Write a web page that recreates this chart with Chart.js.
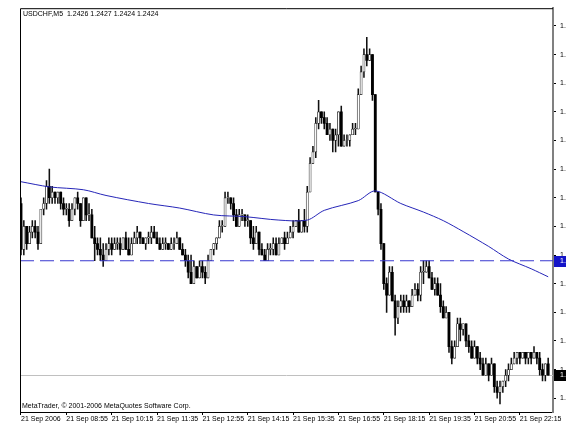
<!DOCTYPE html>
<html>
<head>
<meta charset="utf-8">
<script src="https://cdn.jsdelivr.net/npm/chart.js@4.4.0/dist/chart.umd.min.js"></script>
<style>
  html, body { margin: 0; padding: 0; background: #fff; }
</style>
</head>
<body>
<canvas id="myChart" width="566" height="425"></canvas>
<script>
// USDCHF M5, 21 Sep 2006, one entry per 5 minute bar from 07:35
var opens = [
  1.2454,1.2446,1.2450,1.2447,1.2449,1.2450,1.2449,1.2447,1.2453,1.2454,1.2457,1.2455,1.2456,1.2455,1.2456,1.2454,
  1.2453,1.2453,1.2451,1.2453,1.2455,1.2454,1.2451,1.2455,1.2452,1.2452,1.2448,1.2447,1.2446,1.2445,1.2444,1.2446,
  1.2447,1.2446,1.2447,1.2447,1.2446,1.2448,1.2446,1.2445,1.2447,1.2448,1.2449,1.2448,1.2447,1.2448,1.2448,1.2449,
  1.2448,1.2447,1.2446,1.2447,1.2447,1.2446,1.2447,1.2447,1.2448,1.2446,1.2445,1.2444,1.2442,1.2440,1.2443,1.2441,
  1.2443,1.2442,1.2441,1.2444,1.2446,1.2447,1.2448,1.2450,1.2450,1.2455,1.2455,1.2454,1.2452,1.2450,1.2452,1.2452,
  1.2451,1.2451,1.2448,1.2447,1.2449,1.2446,1.2445,1.2444,1.2446,1.2446,1.2447,1.2445,1.2447,1.2448,1.2447,1.2448,
  1.2449,1.2450,1.2451,1.2449,1.2451,1.2450,1.2456,1.2461,1.2463,1.2468,1.2470,1.2469,1.2468,1.2466,1.2467,1.2465,
  1.2466,1.2470,1.2464,1.2465,1.2465,1.2466,1.2467,1.2467,1.2473,1.2477,1.2480,1.2479,1.2480,1.2473,1.2456,1.2453,
  1.2447,1.2440,1.2438,1.2442,1.2437,1.2434,1.2436,1.2437,1.2436,1.2437,1.2436,1.2438,1.2439,1.2438,1.2442,1.2442,
  1.2443,1.2441,1.2439,1.2440,1.2438,1.2436,1.2434,1.2435,1.2429,1.2427,1.2429,1.2433,1.2432,1.2433,1.2430,1.2429,
  1.2427,1.2429,1.2427,1.2426,1.2424,1.2426,1.2424,1.2426,1.2422,1.2421,1.2422,1.2423,1.2424,1.2425,1.2426,1.2427,
  1.2428,1.2427,1.2428,1.2427,1.2428,1.2427,1.2428,1.2427,1.2425,1.2424,1.2426
];
var highs = [
  1.2455,1.2451,1.2450,1.2450,1.2451,1.2451,1.2450,1.2453,1.2455,1.2458,1.2460,1.2457,1.2456,1.2456,1.2456,1.2455,
  1.2454,1.2454,1.2454,1.2455,1.2456,1.2454,1.2455,1.2455,1.2454,1.2453,1.2450,1.2448,1.2448,1.2447,1.2447,1.2448,
  1.2448,1.2448,1.2448,1.2448,1.2448,1.2449,1.2448,1.2448,1.2449,1.2450,1.2449,1.2448,1.2448,1.2449,1.2450,1.2450,
  1.2449,1.2448,1.2448,1.2448,1.2447,1.2448,1.2448,1.2449,1.2448,1.2447,1.2446,1.2445,1.2445,1.2444,1.2443,1.2444,
  1.2444,1.2443,1.2445,1.2446,1.2447,1.2448,1.2451,1.2451,1.2456,1.2456,1.2455,1.2455,1.2453,1.2453,1.2453,1.2452,
  1.2452,1.2451,1.2450,1.2450,1.2449,1.2447,1.2446,1.2447,1.2447,1.2448,1.2448,1.2448,1.2448,1.2449,1.2449,1.2450,
  1.2451,1.2451,1.2453,1.2451,1.2453,1.2457,1.2462,1.2464,1.2469,1.2472,1.2470,1.2470,1.2469,1.2468,1.2467,1.2467,
  1.2470,1.2471,1.2466,1.2466,1.2466,1.2468,1.2468,1.2474,1.2478,1.2481,1.2483,1.2481,1.2480,1.2473,1.2456,1.2454,
  1.2447,1.2441,1.2443,1.2443,1.2438,1.2437,1.2438,1.2438,1.2438,1.2437,1.2439,1.2440,1.2440,1.2443,1.2444,1.2444,
  1.2444,1.2442,1.2441,1.2441,1.2440,1.2437,1.2436,1.2435,1.2430,1.2430,1.2434,1.2434,1.2433,1.2433,1.2431,1.2430,
  1.2430,1.2429,1.2428,1.2427,1.2427,1.2426,1.2427,1.2426,1.2423,1.2423,1.2423,1.2425,1.2426,1.2427,1.2428,1.2428,
  1.2428,1.2428,1.2428,1.2428,1.2428,1.2429,1.2428,1.2428,1.2426,1.2426,1.2427
];
var lows = [
  1.2445,1.2445,1.2446,1.2447,1.2448,1.2448,1.2446,1.2447,1.2452,1.2453,1.2454,1.2454,1.2454,1.2454,1.2453,1.2452,
  1.2452,1.2450,1.2451,1.2452,1.2453,1.2450,1.2451,1.2451,1.2451,1.2448,1.2444,1.2445,1.2444,1.2443,1.2444,1.2445,
  1.2445,1.2446,1.2446,1.2445,1.2446,1.2446,1.2445,1.2445,1.2447,1.2447,1.2447,1.2447,1.2446,1.2447,1.2447,1.2448,
  1.2447,1.2446,1.2446,1.2446,1.2446,1.2446,1.2446,1.2447,1.2446,1.2445,1.2443,1.2441,1.2440,1.2440,1.2441,1.2441,
  1.2441,1.2440,1.2441,1.2444,1.2445,1.2446,1.2448,1.2449,1.2450,1.2454,1.2453,1.2451,1.2450,1.2450,1.2451,1.2450,
  1.2450,1.2447,1.2446,1.2447,1.2445,1.2445,1.2444,1.2444,1.2445,1.2445,1.2445,1.2445,1.2447,1.2446,1.2447,1.2448,
  1.2448,1.2450,1.2449,1.2449,1.2449,1.2449,1.2456,1.2461,1.2462,1.2467,1.2468,1.2467,1.2466,1.2465,1.2463,1.2463,
  1.2464,1.2464,1.2464,1.2464,1.2464,1.2466,1.2466,1.2467,1.2473,1.2476,1.2478,1.2479,1.2472,1.2456,1.2452,1.2446,
  1.2439,1.2435,1.2438,1.2437,1.2431,1.2433,1.2435,1.2435,1.2435,1.2435,1.2436,1.2438,1.2437,1.2437,1.2440,1.2442,
  1.2441,1.2439,1.2438,1.2438,1.2435,1.2434,1.2434,1.2428,1.2426,1.2427,1.2429,1.2430,1.2431,1.2429,1.2428,1.2427,
  1.2427,1.2426,1.2425,1.2424,1.2424,1.2423,1.2424,1.2421,1.2420,1.2419,1.2421,1.2422,1.2423,1.2425,1.2426,1.2426,
  1.2426,1.2427,1.2426,1.2426,1.2426,1.2427,1.2426,1.2424,1.2423,1.2423,1.2424
];
var closes = [
  1.2446,1.2450,1.2447,1.2449,1.2450,1.2449,1.2447,1.2453,1.2454,1.2457,1.2455,1.2456,1.2455,1.2456,1.2454,1.2453,
  1.2453,1.2451,1.2453,1.2455,1.2454,1.2451,1.2455,1.2452,1.2452,1.2448,1.2447,1.2446,1.2445,1.2444,1.2446,1.2447,
  1.2446,1.2447,1.2447,1.2446,1.2448,1.2446,1.2445,1.2447,1.2448,1.2449,1.2448,1.2447,1.2448,1.2448,1.2449,1.2448,
  1.2447,1.2446,1.2447,1.2447,1.2446,1.2447,1.2447,1.2448,1.2446,1.2445,1.2444,1.2442,1.2440,1.2443,1.2441,1.2443,
  1.2442,1.2441,1.2444,1.2446,1.2447,1.2448,1.2450,1.2450,1.2455,1.2455,1.2454,1.2452,1.2450,1.2452,1.2452,1.2451,
  1.2451,1.2448,1.2447,1.2449,1.2446,1.2445,1.2444,1.2446,1.2446,1.2447,1.2445,1.2447,1.2448,1.2447,1.2448,1.2449,
  1.2450,1.2451,1.2449,1.2451,1.2450,1.2456,1.2461,1.2463,1.2468,1.2470,1.2469,1.2468,1.2466,1.2467,1.2465,1.2466,
  1.2470,1.2464,1.2465,1.2465,1.2466,1.2467,1.2467,1.2473,1.2477,1.2480,1.2479,1.2480,1.2473,1.2456,1.2453,1.2447,
  1.2440,1.2438,1.2442,1.2437,1.2434,1.2436,1.2437,1.2436,1.2437,1.2436,1.2438,1.2439,1.2438,1.2442,1.2442,1.2443,
  1.2441,1.2439,1.2440,1.2438,1.2436,1.2434,1.2435,1.2429,1.2427,1.2429,1.2433,1.2432,1.2433,1.2430,1.2429,1.2427,
  1.2429,1.2427,1.2426,1.2424,1.2426,1.2424,1.2426,1.2422,1.2421,1.2422,1.2423,1.2424,1.2425,1.2426,1.2427,1.2428,
  1.2427,1.2428,1.2427,1.2428,1.2427,1.2428,1.2427,1.2425,1.2424,1.2426,1.2424
];

// moving average (blue line), read at a few bars
var maBar = [0, 10, 22, 30, 45, 56, 68, 79, 91, 101, 107, 119, 125, 134, 142, 149, 156, 165, 172, 180, 186];
var maVal = [1.24578, 1.24569, 1.24564, 1.24554, 1.24540, 1.24532, 1.24520, 1.24517, 1.24511, 1.24511, 1.24528,
             1.24545, 1.24562, 1.24540, 1.24525, 1.24510, 1.24491, 1.24465, 1.24443, 1.24426, 1.24412];

// time axis labels, every 16 bars
var tickBars = [0, 16, 32, 48, 64, 80, 96, 112, 128, 144, 160, 176];
var tickLabels = ['21 Sep 2006', '21 Sep 08:55', '21 Sep 10:15', '21 Sep 11:35', '21 Sep 12:55', '21 Sep 14:15',
                  '21 Sep 15:35', '21 Sep 16:55', '21 Sep 18:15', '21 Sep 19:35', '21 Sep 20:55', '21 Sep 22:15'];
var priceTicks = [1.2420, 1.2425, 1.2430, 1.2435, 1.2440, 1.2445, 1.2450, 1.2455, 1.2460, 1.2465,
                  1.2470, 1.2475, 1.2480, 1.2485];

var hLevel = 1.2444;   // dashed horizontal line
var bidLevel = 1.2424; // last bid
var titleText = 'USDCHF,M5  1.2426 1.2427 1.2424 1.2424';
var copyText = 'MetaTrader, \u00a9 2001-2006 MetaQuotes Software Corp.';

var FONT = '"Liberation Sans", Arial, sans-serif';

function isUp(i) { return closes[i] >= opens[i]; }

var mtDecor = {
    id: 'mtDecor',
    beforeDatasetsDraw: function(chart) {
        var ctx = chart.ctx, a = chart.chartArea, y = chart.scales.y;
        ctx.save();
        var by = Math.round(y.getPixelForValue(bidLevel)) + 0.5;
        ctx.strokeStyle = '#c0c0c0';
        ctx.lineWidth = 1;
        ctx.beginPath(); ctx.moveTo(a.left, by); ctx.lineTo(a.right, by); ctx.stroke();
        ctx.restore();
    },
    afterDatasetsDraw: function(chart) {
        var ctx = chart.ctx, a = chart.chartArea, y = chart.scales.y;
        ctx.save();
        var hy = y.getPixelForValue(hLevel);
        ctx.strokeStyle = '#3838d0';
        ctx.lineWidth = 1.2;
        ctx.setLineDash([14, 6]);
        ctx.beginPath(); ctx.moveTo(a.left, hy); ctx.lineTo(a.right, hy); ctx.stroke();
        ctx.restore();
    },
    afterDraw: function(chart) {
        var ctx = chart.ctx, a = chart.chartArea, y = chart.scales.y;
        ctx.save();
        // left and top frame
        ctx.strokeStyle = '#000';
        ctx.lineWidth = 1;
        ctx.beginPath();
        ctx.moveTo(a.left + 0.5, a.bottom); ctx.lineTo(a.left + 0.5, a.top + 0.5); ctx.lineTo(a.right, a.top + 0.5);
        ctx.stroke();

        ctx.font = '7px ' + FONT;
        ctx.textBaseline = 'middle';
        ctx.fillStyle = '#000';
        ctx.fillText(titleText, a.left + 3, a.top + 6);
        ctx.fillText(copyText, a.left + 2, a.bottom - 6);

        // price boxes on the right axis
        var boxes = [[hLevel, '#1414c8'], [bidLevel, '#000']];
        boxes.forEach(function(b) {
            var py = y.getPixelForValue(b[0]);
            ctx.fillStyle = b[1];
            ctx.fillRect(a.right + 1, Math.round(py) - 5, 13, 11);
            ctx.fillStyle = '#fff';
            ctx.fillText(b[0].toFixed(4), a.right + 7, Math.round(py) + 0.5);
        });
        ctx.restore();
    }
};

const ctx = document.getElementById('myChart').getContext('2d');
const myChart = new Chart(ctx, {
    type: 'bar',
    data: {
        datasets: [{
            type: 'line',
            data: maBar.map(function(b, i) { return {x: b, y: maVal[i]}; }),
            borderColor: '#2626b8',
            borderWidth: 1,
            pointRadius: 0,
            tension: 0.3,
            order: 0
        }, {
            // candle bodies
            data: opens.map(function(o, i) { return {x: i, y: [o, closes[i]]}; }),
            backgroundColor: function(c) { return isUp(c.dataIndex) ? '#ffffff' : '#000000'; },
            borderColor: '#222222',
            borderWidth: function(c) { return isUp(c.dataIndex) ? 0.7 : 0; },
            borderSkipped: false,
            barThickness: 2.2,
            minBarLength: 1,
            grouped: false,
            order: 1
        }, {
            // wicks
            data: highs.map(function(h, i) { return {x: i, y: [lows[i], h]}; }),
            backgroundColor: '#111111',
            borderWidth: 0,
            barThickness: 0.9,
            grouped: false,
            order: 2
        }]
    },
    options: {
        responsive: false,
        animation: false,
        events: [],
        layout: { padding: { left: 20, top: 2, right: 0, bottom: 0 } },
        plugins: {
            legend: { display: false },
            tooltip: { enabled: false }
        },
        scales: {
            x: {
                type: 'linear',
                min: -0.35,
                max: 187.7,
                offset: false,
                afterBuildTicks: function(axis) {
                    axis.ticks = tickBars.map(function(v) { return {value: v}; });
                },
                afterFit: function(axis) { axis.height = 13; },
                grid: { display: true, offset: false, drawOnChartArea: false, drawTicks: true, tickLength: 3, tickColor: '#000', color: '#000' },
                border: { display: true, color: '#000', width: 1 },
                ticks: {
                    autoSkip: false,
                    maxRotation: 0,
                    align: 'start',
                    padding: 0,
                    color: '#000',
                    font: { family: FONT, size: 7 },
                    callback: function(v) {
                        var i = tickBars.indexOf(v);
                        return i < 0 ? '' : tickLabels[i];
                    }
                }
            },
            y: {
                position: 'right',
                min: 1.241759,
                max: 1.248810,
                afterBuildTicks: function(axis) {
                    axis.ticks = priceTicks.map(function(v) { return {value: v}; });
                },
                afterFit: function(axis) { axis.width = 13; },
                grid: { drawOnChartArea: false, drawTicks: true, tickLength: 3, tickColor: '#000' },
                border: { display: true, color: '#808080', width: 2 },
                ticks: {
                    padding: 4,
                    color: '#000',
                    font: { family: FONT, size: 7 },
                    callback: function(v) { return v.toFixed(4); }
                }
            }
        }
    },
    plugins: [mtDecor]
});
</script>
</body>
</html>
